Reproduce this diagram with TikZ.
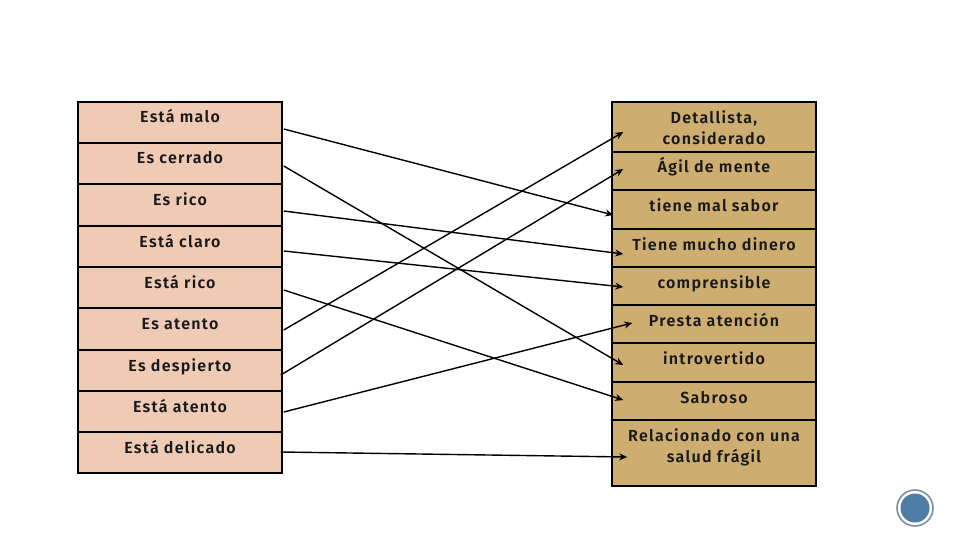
\documentclass[tikz,border=0pt]{standalone}
\usepackage{fontspec}
\setmainfont[LetterSpace=8]{Fira Sans SemiBold}
\usetikzlibrary{calc,arrows.meta}
\definecolor{lfill}{HTML}{EFCBB5}
\definecolor{rfill}{HTML}{CDAD70}
\definecolor{ringc}{HTML}{7E8E9C}
\definecolor{discc}{HTML}{4F7DA6}
\tikzset{
 x=1pt,y=-1pt,
 cellbox/.style={draw=black,line width=1.5pt,minimum width=204pt,inner sep=0pt,anchor=center},
 lbox/.style={cellbox,fill=lfill},
 rbox/.style={cellbox,fill=rfill},
 lab/.style={font=\fontsize{16pt}{21pt}\selectfont,align=center,inner sep=0pt,text=black!90},
 lab1/.style={lab,anchor=base},
 link/.style={draw=black,line width=1.4pt,-{Stealth[length=8pt,width=7pt]}}
}
\begin{document}
\begin{tikzpicture}
\useasboundingbox (0,0) rectangle (960,540);
\fill[white] (0,0) rectangle (960,540);
% left column
\node[lbox,minimum height=41pt] (l1) at (180,122.5) {};
\node[lbox,minimum height=41pt] (l2) at (180,163.5) {};
\node[lbox,minimum height=42pt] (l3) at (180,205) {};
\node[lbox,minimum height=41pt] (l4) at (180,246.5) {};
\node[lbox,minimum height=41pt] (l5) at (180,287.5) {};
\node[lbox,minimum height=42pt] (l6) at (180,329) {};
\node[lbox,minimum height=41pt] (l7) at (180,370.5) {};
\node[lbox,minimum height=41pt] (l8) at (180,411.5) {};
\node[lbox,minimum height=41pt] (l9) at (180,452.5) {};
% right column
\node[rbox,minimum height=50pt] (r1) at (714,127) {};
\node[rbox,minimum height=38pt] (r2) at (714,171) {};
\node[rbox,minimum height=39pt] (r3) at (714,209.5) {};
\node[rbox,minimum height=38pt] (r4) at (714,248) {};
\node[rbox,minimum height=38pt] (r5) at (714,286) {};
\node[rbox,minimum height=38pt] (r6) at (714,324) {};
\node[rbox,minimum height=39pt] (r7) at (714,362.5) {};
\node[rbox,minimum height=38pt] (r8) at (714,401) {};
\node[rbox,minimum height=66pt] (r9) at (714,453) {};
% labels
\node[lab1] (tl1) at (180,123) {Está malo};
\node[lab1] (tl2) at (180,164) {Es cerrado};
\node[lab1] (tl3) at (180,205) {Es rico};
\node[lab1] (tl4) at (180,247) {Está claro};
\node[lab1] (tl5) at (180,288) {Está rico};
\node[lab1] (tl6) at (180,329) {Es atento};
\node[lab1] (tl7) at (180,371) {Es despierto};
\node[lab1] (tl8) at (180,412) {Está atento};
\node[lab1] (tl9) at (180,453) {Está delicado};
\node[lab] (tr1) at (714,127.5) {Detallista,\\considerado};
\node[lab1] (tr2) at (714,173) {Ágil de mente};
\node[lab1] (tr3) at (714,211) {tiene mal sabor};
\node[lab1] (tr4) at (714,250) {Tiene mucho dinero};
\node[lab1] (tr5) at (714,288) {comprensible};
\node[lab1] (tr6) at (714,326) {Presta atención};
\node[lab1] (tr7) at (714,364) {introvertido};
\node[lab1] (tr8) at (714,403) {Sabroso};
\node[lab] (tr9) at (714,447) {Relacionado con una\\salud frágil};
% connectors
\draw[link] ($(l1.east)+(1,6.5)$) -- ($(r3.west)+(2,5.5)$);
\draw[link] ($(l2.east)+(1,2.5)$) -- ($(r7.west)+(12,2.5)$);
\draw[link] ($(l3.east)+(1,6)$) -- ($(r4.west)+(12,6)$);
\draw[link] ($(l4.east)+(1,4.5)$) -- ($(r5.west)+(12,1)$);
\draw[link] ($(l5.east)+(1,2.5)$) -- ($(r8.west)+(12,-1)$);
\draw[link] ($(l6.east)+(1,1)$) -- ($(r1.west)+(12,5)$);
\draw[link] ($(l7.east)+(-2,4.5)$) -- ($(r2.west)+(12,-2)$);
\draw[link] ($(l8.east)+(1,0.5)$) -- ($(r6.west)+(21,-1)$);
\draw[link] ($(l9.east)+(-2,-0.5)$) -- ($(r9.west)+(16,4)$);
% page badge
\node[circle,draw=ringc,line width=1.6pt,fill=white,minimum size=36pt,inner sep=0pt] (ring) at (915,508) {};
\node[circle,fill=discc,minimum size=29pt,inner sep=0pt] (disc) at (ring.center) {};
\end{tikzpicture}
\end{document}
